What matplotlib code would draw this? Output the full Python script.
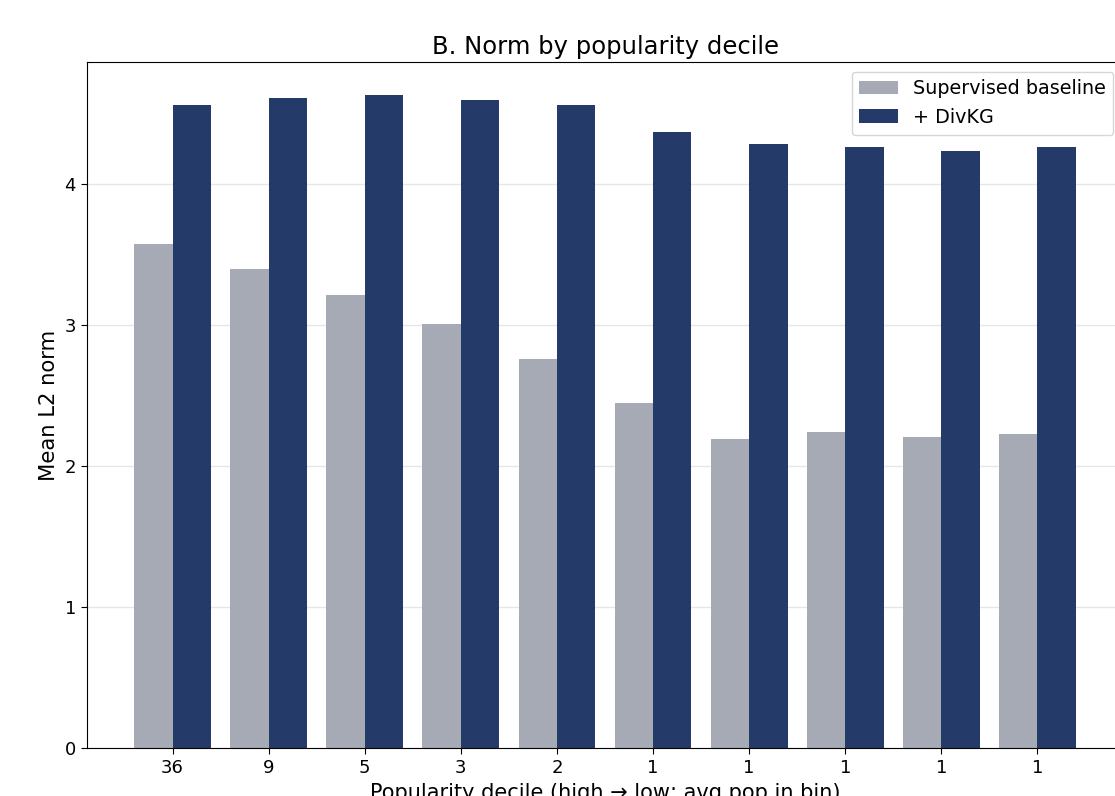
import matplotlib
matplotlib.use("Agg")
import matplotlib.pyplot as plt
import numpy as np

tick_labels = ["36", "9", "5", "3", "2", "1", "1", "1", "1", "1"]
baseline = [3.574, 3.397, 3.213, 3.007, 2.759, 2.447, 2.191, 2.241, 2.206, 2.227]
divkg = [4.560, 4.610, 4.631, 4.596, 4.560, 4.369, 4.284, 4.262, 4.234, 4.262]

fig = plt.figure(figsize=(11.15, 7.96), dpi=100)
ax = fig.add_axes([87 / 1115, 48 / 796, (1123 - 87) / 1115, (748 - 62) / 796])

x = np.arange(len(tick_labels))
w = 0.4
ax.bar(x - w / 2, baseline, w, color="#a6aab4", label="Supervised baseline", zorder=2)
ax.bar(x + w / 2, divkg, w, color="#243b6a", label="+ DivKG", zorder=2)

ax.set_xticks(x)
ax.set_xticklabels(tick_labels)
ax.tick_params(labelsize=13, length=4.5)
ax.yaxis.grid(True, color="#e6e6e6", linewidth=1.0, zorder=0)
ax.set_axisbelow(True)
ax.set_ylabel("Mean L2 norm", fontsize=15.2)
ax.set_xlabel("Popularity decile (high \u2192 low; avg pop in bin)", fontsize=15)
ax.set_title("B. Norm by popularity decile", fontsize=17.5)
ax.legend(loc="upper right", fontsize=13.8)

fig.savefig("out.png", dpi=100)
